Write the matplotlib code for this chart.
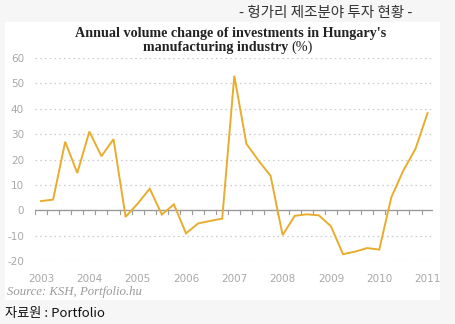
import matplotlib
matplotlib.use("Agg")
import matplotlib.pyplot as plt
from matplotlib.patches import Rectangle

# quarterly data 2003 Q1 .. 2011 Q1
values = [3.6, 4.2, 27.0, 14.7, 31.0, 21.3, 28.0, -2.6,
          2.6, 8.5, -1.7, 2.3, -9.1, -5.2, -4.2, -3.3,
          53.0, 26.2, 19.6, 13.6, -9.8, -2.2, -1.6, -2.0,
          -6.3, -17.3, -16.3, -14.9, -15.5, 5.1, 15.7, 24.2, 38.3]
year_labels = ["2003", "2004", "2005", "2006", "2007", "2008", "2009", "2010", "2011"]
y_ticks = [-20, -10, 0, 10, 20, 30, 40, 50, 60]

W, H = 456, 324
fig = plt.figure(figsize=(W / 100, H / 100), dpi=100, facecolor="#f6f6f6")

# white panel
fig.patches.append(Rectangle((5 / W, 1 - 300 / H), 435 / W, 278 / H,
                             transform=fig.transFigure, facecolor="white",
                             edgecolor="none", zorder=-5))

ax = fig.add_axes([35 / W, 1 - 261 / H, 398 / W, 203 / H])
ax.set_zorder(2)
ax.set_facecolor("none")
x = list(range(len(values)))
ax.plot(x, values, color="#e8ad2e", lw=1.4, zorder=3, solid_joinstyle="miter")

ax.set_xlim(-0.5, 32.45)
ax.set_ylim(-20, 60)
for s in ax.spines.values():
    s.set_visible(False)

for v in y_ticks:
    if v == 0:
        continue
    ax.axhline(v, color="#cccccc", lw=0.9, ls=(0, (1.3, 2.5)), zorder=1)
ax.axhline(0, color="#9a9a9a", lw=1.0, zorder=2)
# small tick marks on zero line
for k in range(33):
    ax.plot([k - 0.5, k - 0.5], [0, -1.3], color="#9a9a9a", lw=0.8, zorder=2)

ax.set_yticks(y_ticks)
ax.set_yticklabels([str(v) for v in y_ticks])
ax.set_xticks(list(range(0, 33, 4)))
ax.set_xticklabels(year_labels)
ax.tick_params(axis="both", length=0, colors="#a8a8a8", labelsize=7.5)
ax.tick_params(axis="y", pad=8)
ax.tick_params(axis="x", pad=9)

fig.text(231 / W, 1 - 33 / H, "Annual volume change of investments in Hungary's",
         ha="center", va="center", fontsize=10.2, fontweight="bold",
         family="Liberation Serif", color="#222222")
fig.text(288 / W, 1 - 47 / H, "manufacturing industry",
         ha="right", va="center", fontsize=10.2, fontweight="bold",
         family="Liberation Serif", color="#222222")
fig.text(291 / W, 1 - 47 / H, "(%)",
         ha="left", va="center", fontsize=10.2, fontweight="normal",
         family="Liberation Serif", color="#222222")

fig.text(7 / W, 1 - 292 / H, "Source: KSH, Portfolio.hu", ha="left", va="center",
         fontsize=9.2, style="italic", family="Liberation Serif", color="#9a9a9a")

fig.text(412 / W, 1 - 13 / H, "- 헝가리 제조분야 투자 현황 -", ha="right", va="center",
         fontsize=10.5, family=["Noto Sans CJK KR", "DejaVu Sans"], color="#333333")
fig.text(5 / W, 1 - 313 / H, "자료원 : Portfolio", ha="left", va="center",
         fontsize=9.5, family=["Noto Sans CJK KR", "DejaVu Sans"], color="#111111")

fig.savefig("out.png", dpi=100, facecolor=fig.get_facecolor())
